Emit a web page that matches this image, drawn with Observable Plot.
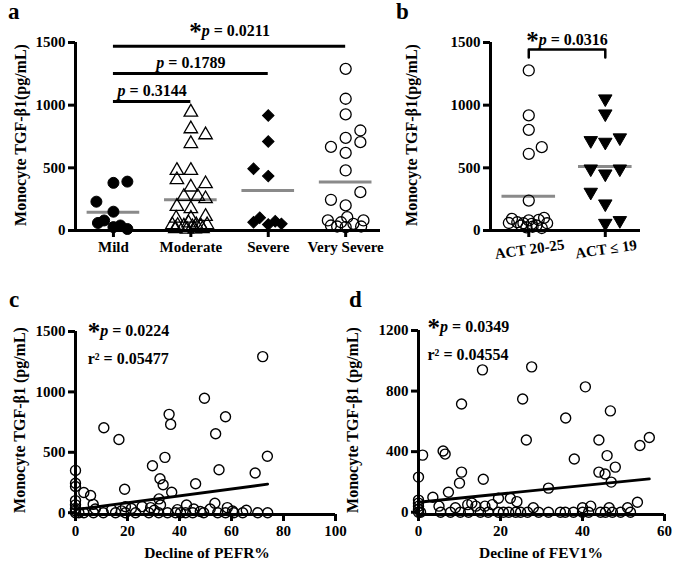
<!DOCTYPE html>
<html><head><meta charset="utf-8">
<script src="https://cdn.jsdelivr.net/npm/d3@7"></script>
<script src="https://cdn.jsdelivr.net/npm/@observablehq/plot@0.6"></script>
<style>
body{margin:0;background:#fff;}
#wrap{position:relative;width:675px;height:569px;overflow:hidden;font-family:"Liberation Serif",serif;font-weight:bold;color:#000;background:#fff;}
#wrap svg{position:absolute;left:0;top:0;}
.lbl{position:absolute;font-size:23px;font-weight:bold;line-height:23px;}
.ytitle{position:absolute;font-size:16px;font-weight:bold;white-space:nowrap;transform:translate(-50%,-50%) rotate(-90deg);}
.xtitle{position:absolute;font-size:15.5px;font-weight:bold;white-space:nowrap;transform:translate(-50%,-50%);}
</style></head>
<body>
<div id="wrap">
  <div class="lbl" style="left:8px;top:0px">a</div>
  <div class="lbl" style="left:396px;top:0px">b</div>
  <div class="lbl" style="left:9px;top:288px">c</div>
  <div class="lbl" style="left:349px;top:288px">d</div>
  <div class="ytitle" style="left:21px;top:135px">Monocyte TGF-β1(pg/mL)</div>
  <div class="ytitle" style="left:412px;top:135px">Monocyte TGF-β1(pg/mL)</div>
  <div class="ytitle" style="left:20px;top:420px">Monocyte TGF-β1 (pg/mL)</div>
  <div class="ytitle" style="left:353px;top:420px">Monocyte TGF-β1 (pg/mL)</div>
  <div class="xtitle" style="left:207px;top:553px">Decline of PEFR%</div>
  <div class="xtitle" style="left:541px;top:553px">Decline of FEV1%</div>
</div>
<script>
// ---------- Panel a data ----------
const catsA = ["Mild", "Moderate", "Severe", "Very Severe"];
const mildVals = [390, 380, 230, 150, 80, 60, 40, 27, 12];
const mildJit  = [0.18, 0, -0.22, 0, -0.12, -0.2, 0.09, 0, 0.18];
const modVals = [944, 811, 763, 693, 479, 479, 405, 373, 346, 271, 271, 253, 192, 173, 112, 98, 98,
                 45, 40, 35, 60, 30, 45, 35, 45, 15, 10, 12, 15];
const modJit  = [0, 0, 0.19, 0, -0.18, 0, -0.18, 0.19, 0, -0.09, 0.09, 0.19, -0.18, 0, 0.19, -0.19, 0,
                 -0.24, -0.17, -0.09, -0.03, 0.02, 0.07, 0.13, 0.21, -0.2, -0.05, 0.05, 0.15];
const sevVals = [918, 710, 492, 434, 66, 101, 48, 74, 53];
const sevJit  = [0, 0, -0.19, 0, -0.19, -0.11, 0, 0.09, 0.17];
const vsVals = [1290, 1051, 926, 798, 739, 705, 667, 619, 479, 306, 245, 200, 80, 40, 66, 106, 53, 80, 32, 32, 27];
const vsJit  = [0, 0, 0, 0.19, 0, 0.19, -0.19, 0, 0, 0.19, -0.19, 0, -0.23, -0.19, -0.06, 0.02, 0.1, 0.23, 0.2, -0.11, 0];
const meansA = [146, 245, 319, 386];
const bracketsA = [
  {from: 0, to: 3, y: 1471, ty: 1590, label: "*p = 0.0211"},
  {from: 0, to: 2, y: 1253, ty: 1340, label: "p = 0.1789"},
  {from: 0, to: 1, y: 1030, ty: 1117, label: "p = 0.3144"}
];

// ---------- Panel b data ----------
const catsB = ["ACT 20-25", "ACT ≤ 19"];
const act1Vals = [1277, 918, 803, 665, 612, 239, 93, 66, 58, 80, 53, 85, 101, 58, 40, 30, 40, 25, 60, 20];
const act1Jit  = [0, 0, 0, 0.17, 0, 0, -0.22, -0.15, -0.07, 0, 0.04, 0.13, 0.2, 0.24, -0.1, 0.05, 0.1, -0.03, -0.26, 0.17];
const act2Vals = [1051, 931, 718, 705, 740, 492, 452, 492, 306, 213, 58, 80];
const act2Jit  = [0, 0, -0.19, 0, 0.19, -0.19, 0, 0.19, -0.19, 0, 0, 0.19];
const meansB = [274, 511];
const bracketB = [{g: 0, y: 1380}, {g: 0, y: 1444}, {g: 1, y: 1444}, {g: 1, y: 1380}];
const labelB = [{x: 0.5, y: 1520, label: "*p = 0.0316"}];

// ---------- Panel c data ----------
const pefrX = [0,0,0,0,0,0,0,0,
  1.3,3.2,3.2,5.8,6.8,6.9,7.6,10.7,10.9,13.9,15.4,16.7,17.7,18.9,19.2,19.2,21.5,23.1,25.6,28.2,28.9,29.6,30.3,32,32.1,32.5,32.7,
  33.7,34.4,35.4,36,36.6,37,38.5,39.2,40.4,42.3,42.7,45.1,45.5,46.2,48,49.3,49.6,51.8,53.6,53.9,54.7,55.2,57.7,57.7,58.4,
  60.4,60.9,64.3,65.7,69.1,70.1,72,73.8,73.9];
const pefrY = [350,244,217,100,65,35,15,0,
  0,167,0,142,69,0,30,0,703,25,0,606,15,194,50,0,35,0,50,0,42,389,20,0,114,281,64,
  231,458,0,814,731,169,0,25,0,0,64,0,30,239,10,0,948,30,78,653,0,356,794,0,42,
  14,0,0,20,328,0,1292,467,0];
const lineC = [{x: 0, y: 25}, {x: 73.9, y: 236}];
const statsC = [{x: 4.7, y: 1508, label: "*p = 0.0224"}, {x: 4.7, y: 1277, label: "r² = 0.05477"}];

// ---------- Panel d data ----------
const fevX = [0,0,0,0,0,0,0.5,1,3.5,5,5.4,6,6.5,7.3,7.8,9,10,10.2,10.5,10.5,12,12.2,13,14,15.1,15.6,15.8,16.2,17,18,
  19.5,19.5,20.7,22,22.4,23.7,24,24.9,25.4,26.3,26.6,27.6,28,29.3,31.7,31.7,34.6,35.8,35.9,37.8,38,40,40,40.7,41.5,
  42,44,44,44.4,45.5,45.6,46,46.5,46.8,47,47.3,48,49.3,51,51.7,53.4,54,56.3];
const fevY = [232,80,60,40,20,0,0,377,99,40,0,404,384,132,0,30,192,0,265,715,50,0,60,40,0,940,218,40,0,50,
  92,0,0,0,92,0,70,0,748,477,0,960,30,0,159,0,0,0,622,0,351,30,0,828,0,
  40,477,265,0,252,0,374,30,669,199,0,298,0,30,0,66,441,493];
const lineD = [{x: 0, y: 66}, {x: 56.3, y: 220}];
const statsD = [{x: 2.2, y: 1223, label: "*p = 0.0349"}, {x: 2.2, y: 1038, label: "r² = 0.04554"}];

// ---------- build ----------
const pts = (vals, jit, g) => vals.map((v, i) => ({g, j: jit[i], v}));
const common = {
  width: 675, height: 569,
  style: {background: "transparent", fontFamily: "'Liberation Serif', serif", fontWeight: "bold", fontSize: "15px", color: "black", overflow: "visible"}
};
const AX = 3, TK = 7;
const grey = "#8a8a8a";
const fmt = d => String(d);

const A = Plot.plot({
  ...common, marginLeft: 75, marginRight: 295, marginTop: 42, marginBottom: 339,
  x: {domain: [-0.49, 3.45]}, y: {domain: [0, 1500]},
  marks: [
    Plot.ruleY(meansA.map((v, g) => ({g, v})), {y: "v", x1: d => d.g - 0.34, x2: d => d.g + 0.34, stroke: grey, strokeWidth: 3}),
    Plot.dot(pts(mildVals, mildJit, 0), {x: d => d.g + d.j, y: "v", r: 5.5, fill: "black", stroke: "black", strokeWidth: 1}),
    Plot.dot(pts(modVals, modJit, 1), {x: d => d.g + d.j, y: "v", r: 5, symbol: "triangle", fill: "none", stroke: "black", strokeWidth: 1.3}),
    Plot.dot(pts(sevVals, sevJit, 2), {x: d => d.g + d.j, y: "v", r: 4.6, symbol: "square", rotate: 45, fill: "black", stroke: "black", strokeWidth: 1}),
    Plot.dot(pts(vsVals, vsJit, 3), {x: d => d.g + d.j, y: "v", r: 5.5, fill: "none", stroke: "black", strokeWidth: 1.3}),
    Plot.ruleX([-0.49], {y1: 0, y2: 1500, strokeWidth: AX}),
    Plot.ruleY([0], {x1: -0.49, x2: 3.45, strokeWidth: AX}),
    Plot.axisY({ticks: [0, 500, 1000, 1500], tickFormat: fmt, tickSize: TK, strokeWidth: AX, tickPadding: 3, label: null}),
    Plot.axisX({ticks: [0, 1, 2, 3], tickFormat: i => catsA[i], tickSize: TK, strokeWidth: AX, tickPadding: 4, label: null}),
    Plot.ruleY(bracketsA, {y: "y", x1: "from", x2: "to", strokeWidth: 3}),
    Plot.text(bracketsA, {x: d => (d.from + d.to) / 2, y: "ty", text: "label", fontSize: 16, className: "ann"})
  ]
});

const B = Plot.plot({
  ...common, marginLeft: 490, marginRight: 35, marginTop: 42, marginBottom: 339,
  x: {domain: [-0.5, 1.46]}, y: {domain: [0, 1500]},
  marks: [
    Plot.ruleY(meansB.map((v, g) => ({g, v})), {y: "v", x1: d => d.g - 0.35, x2: d => d.g + 0.35, stroke: grey, strokeWidth: 3}),
    Plot.dot(pts(act1Vals, act1Jit, 0), {x: d => d.g + d.j, y: "v", r: 5.5, fill: "none", stroke: "black", strokeWidth: 1.3}),
    Plot.dot(pts(act2Vals, act2Jit, 1), {x: d => d.g + d.j, y: "v", r: 5, symbol: "triangle", rotate: 180, fill: "black", stroke: "black", strokeWidth: 1}),
    Plot.ruleX([-0.5], {y1: 0, y2: 1500, strokeWidth: AX}),
    Plot.ruleY([0], {x1: -0.5, x2: 1.46, strokeWidth: AX}),
    Plot.axisY({ticks: [0, 500, 1000, 1500], tickFormat: fmt, tickSize: TK, strokeWidth: AX, tickPadding: 3, label: null}),
    Plot.axisX({ticks: [0, 1], tickFormat: i => catsB[i], tickSize: TK, strokeWidth: AX, tickPadding: 6, tickRotate: -8, textAnchor: "middle", label: null}),
    Plot.line(bracketB, {x: "g", y: "y", strokeWidth: 2.5}),
    Plot.text(labelB, {x: "x", y: "y", text: "label", fontSize: 16, className: "ann"})
  ]
});

const C = Plot.plot({
  ...common, marginLeft: 75, marginRight: 340, marginTop: 331, marginBottom: 55,
  x: {domain: [0, 100]}, y: {domain: [-15, 1500]},
  marks: [
    Plot.dot(pefrX.map((x, i) => ({x, y: pefrY[i]})), {x: "x", y: "y", r: 5, fill: "none", stroke: "black", strokeWidth: 1.4}),
    Plot.line(lineC, {x: "x", y: "y", strokeWidth: 2.8}),
    Plot.ruleX([0], {y1: -15, y2: 1500, strokeWidth: AX}),
    Plot.ruleY([-15], {x1: 0, x2: 100, strokeWidth: AX}),
    Plot.axisY({ticks: [0, 500, 1000, 1500], tickFormat: fmt, tickSize: TK, strokeWidth: AX, tickPadding: 3, label: null}),
    Plot.axisX({ticks: [0, 20, 40, 60, 80, 100], tickFormat: fmt, tickSize: TK, strokeWidth: AX, tickPadding: 4, label: null}),
    Plot.text(statsC, {x: "x", y: "y", text: "label", textAnchor: "start", fontSize: 16, className: "ann"})
  ]
});

const D = Plot.plot({
  ...common, marginLeft: 418, marginRight: 11, marginTop: 330, marginBottom: 55,
  x: {domain: [0, 60]}, y: {domain: [-15, 1200]},
  marks: [
    Plot.dot(fevX.map((x, i) => ({x, y: fevY[i]})), {x: "x", y: "y", r: 5, fill: "none", stroke: "black", strokeWidth: 1.4}),
    Plot.line(lineD, {x: "x", y: "y", strokeWidth: 2.8}),
    Plot.ruleX([0], {y1: -15, y2: 1200, strokeWidth: AX}),
    Plot.ruleY([-15], {x1: 0, x2: 60, strokeWidth: AX}),
    Plot.axisY({ticks: [0, 400, 800, 1200], tickFormat: fmt, tickSize: TK, strokeWidth: AX, tickPadding: 3, label: null}),
    Plot.axisX({ticks: [0, 20, 40, 60], tickFormat: fmt, tickSize: TK, strokeWidth: AX, tickPadding: 4, label: null}),
    Plot.text(statsD, {x: "x", y: "y", text: "label", textAnchor: "start", fontSize: 16, className: "ann"})
  ]
});

const wrap = document.getElementById("wrap");
for (const svg of [A, B, C, D]) {
  wrap.appendChild(svg);
  d3.select(svg).selectAll("g.ann text").each(function () {
    const t = d3.select(this);
    let s = t.text();
    if (!/p = /.test(s)) return;
    t.text(null);
    if (s.startsWith("*")) {
      t.append("tspan").attr("font-size", 25).attr("dy", 4).text("*");
      s = s.slice(1);
      t.append("tspan").attr("font-style", "italic").attr("dy", -4).text("p");
    } else {
      t.append("tspan").attr("font-style", "italic").text("p");
    }
    t.append("tspan").text(s.slice(1));
  });
}
</script>
</body></html>
